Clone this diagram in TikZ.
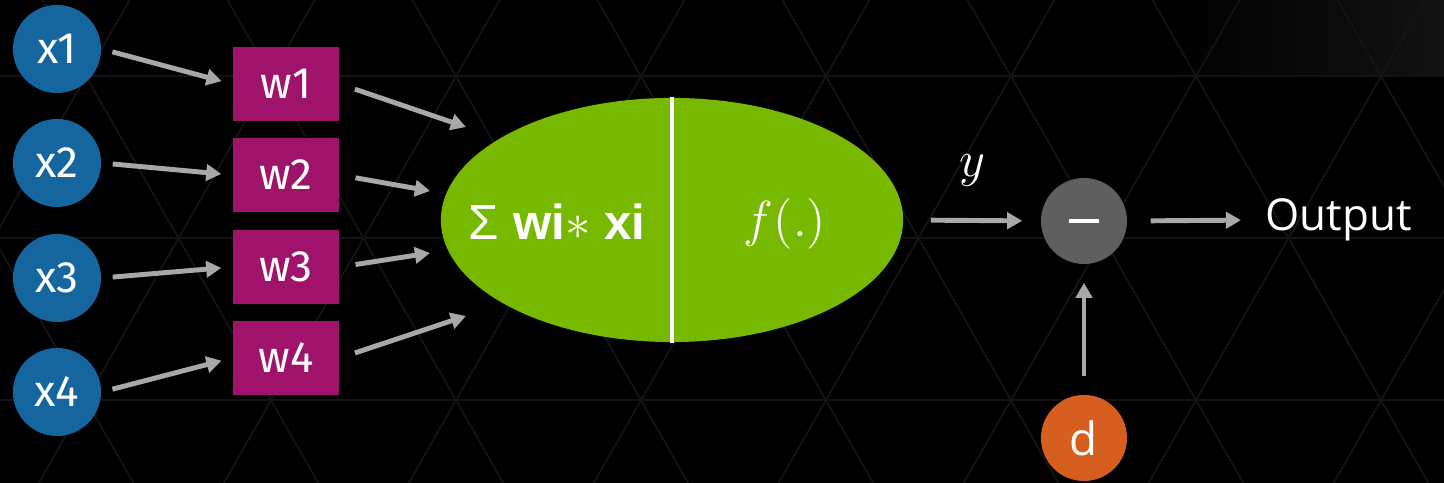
\documentclass[tikz,border=0pt]{standalone}
\usepackage{fontspec}
\setmainfont{Fira Sans}
\newfontfamily\outfont{Open Sans}
\newfontfamily\sumfont{Liberation Sans}
\usetikzlibrary{arrows.meta,shapes.geometric,calc}

\definecolor{inblue}{HTML}{15659F}
\definecolor{wpurple}{HTML}{A0136B}
\definecolor{nvgreen}{HTML}{76B900}
\definecolor{diffgray}{HTML}{5F5F5F}
\definecolor{dorange}{HTML}{D65F1F}
\definecolor{arrowgray}{HTML}{A8A8A8}
\definecolor{gridgray}{HTML}{141414}

\begin{document}
\begin{tikzpicture}[
  x=0.01cm, y=-0.01cm,
  font=\fontsize{12.5}{14}\selectfont,
  inp/.style={circle, fill=inblue, text=white, minimum size=0.88cm, inner sep=0pt},
  wbox/.style={rectangle, fill=wpurple, text=white, minimum width=1.06cm, minimum height=0.74cm, inner sep=0pt},
  neuronst/.style={ellipse, fill=nvgreen, minimum width=4.62cm, minimum height=2.44cm, inner sep=0pt},
  opcirc/.style={circle, minimum size=0.86cm, inner sep=0pt, text=white, font=\outfont\fontsize{13}{15}\selectfont},
  flow/.style={-{Triangle[length=4.3pt,width=4.6pt]}, draw=arrowgray, line width=1.4pt},
  gridline/.style={draw=gridgray, line width=0.5pt}
]

% =========================================================================
% Pozadie (čierne, jemná trojuholníková mriežka)
% =========================================================================
\fill[black] (0,0) rectangle (1444,483);
\useasboundingbox (0,0) rectangle (1444,483);
\begin{scope}
  \clip (0,0) rectangle (1444,483);
  \shade[left color=black, right color=black!93!white] (1150,0) rectangle (1444,76);
  \foreach \r in {76,238,400}
    \draw[gridline] (0,\r) -- (1444,\r);
  \foreach \k in {-8,...,3} {
    \draw[gridline] ({1011+185*\k-95},-90) -- ({1011+185*\k+282},570);
    \draw[gridline] ({1011+185*\k+95},-90) -- ({1011+185*\k-282},570);
  }
\end{scope}

% =========================================================================
% Vstupy a váhy
% =========================================================================
\node[inp] (x1) at (57,49)  {x1};
\node[inp] (x2) at (57,163) {x2};
\node[inp] (x3) at (57,278) {x3};
\node[inp] (x4) at (57,392) {x4};

\node[wbox] (w1) at (286,84)  {w1};
\node[wbox] (w2) at (286,175) {w2};
\node[wbox] (w3) at (286,267) {w3};
\node[wbox] (w4) at (286,358) {w4};

% Neurón
\node[neuronst] (neuron) at (672,220) {};
\draw[white, line width=1.3pt] (neuron.north) -- (neuron.south);
\node[text=white, font=\sumfont\bfseries\fontsize{14}{16}\selectfont] (sum) at (557,222)
  {{\mdseries Σ} wi{\mdseries$\ast$} xi};
\node[text=white, font=\fontsize{15}{17}\selectfont] (act) at (785,224) {$f(.)$};

% hroty šípok pri neuróne
\coordinate (in1) at (466,127);
\coordinate (in2) at (430,191);
\coordinate (in3) at (430,253);
\coordinate (in4) at (466,316);

% Rozdiel a výstup
\node[opcirc, fill=diffgray] (diff) at (1084,221) {\rule{8.5pt}{1.2pt}};
\node[opcirc, fill=dorange]  (d)    at (1084,438) {d};
\node[anchor=west, inner sep=0pt, text=white, font=\outfont\fontsize{12.5}{15}\selectfont] (out) at (1265,220) {Output};

% =========================================================================
% Spojenia
% =========================================================================
\foreach \i in {1,...,4}
  \draw[flow, shorten <=0.11cm, shorten >=0.11cm] (x\i.east) -- (w\i.west);
\foreach \i in {1,...,4}
  \draw[flow, shorten <=0.16cm] (w\i.east) -- (in\i);

\draw[flow, shorten <=0.27cm, shorten >=0.18cm] (neuron.east) --
  node[midway, yshift=0.5cm, text=white, font=\fontsize{15}{17}\selectfont] {$y$} (diff.west);
\draw[flow, shorten <=0.23cm, shorten >=0.24cm] (diff.east) -- (out.west);
\draw[flow, shorten <=0.18cm, shorten >=0.18cm] (d.north) -- (diff.south);

\end{tikzpicture}
\end{document}
